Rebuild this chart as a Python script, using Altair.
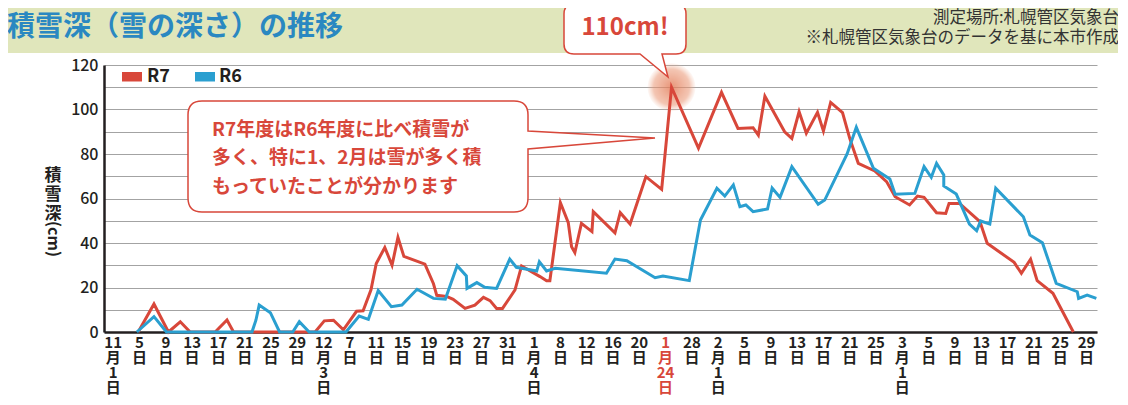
import re
import altair as alt
import pandas as pd

FONT = "Noto Sans CJK JP"
RED = "#d8473a"
BLUE = "#2a9fd0"
INK = "#231f20"
GREEN = "#e0e6bb"
TITLE_BLUE = "#2a88c1"

# x = days after 1 November, y = snow depth (cm)
r7_day = [3.8, 6.2, 8.4, 10.2, 11.7, 15.5, 17.3, 18.3, 30.7, 32.1, 33.5, 35.0, 37.0, 38.0,
          39.2, 40.0, 41.3, 42.4, 43.3, 44.2, 47.4, 48.7, 49.2, 50.7, 51.7, 53.5, 55.0, 56.3,
          57.3, 58.3, 59.2, 61.1, 62.1, 64.9, 65.9, 66.4, 68.0, 69.2, 69.7, 70.2, 71.2, 72.8,
          73.0, 76.3, 77.1, 78.6, 81.0, 83.4, 84.9, 89.0, 92.5, 95.0, 97.3, 98.1, 99.1, 102.1,
          103.2, 104.3, 105.4, 107.1, 108.0, 109.1, 110.9, 112.0, 113.3, 115.8, 117.6, 118.9,
          121.1, 122.3, 123.3, 125.2, 126.6, 127.1, 128.7, 131.8, 132.9, 137.0, 138.1, 139.5,
          140.5, 142.9, 146.0]
r7_cm = [0, 12.6, 0, 4.6, 0, 0, 5.4, 0, 0, 5, 5.3, 1, 9.3, 9.5,
         19, 30.8, 38, 30, 42.5, 34, 30.5, 21.7, 16.5, 16, 14.7, 10.6, 12.1, 15.6,
         14.1, 10.6, 10.6, 18.9, 29.7, 24.9, 23, 23, 58.1, 49.1, 38.3, 35.7, 48.8, 45.1,
         54.1, 44.6, 53.6, 48.5, 69.8, 64.1, 110, 82.6, 107.7, 91.5, 91.8, 88.5, 106, 90,
         87, 99, 89.3, 98.7, 90.3, 103.2, 98.6, 87, 75.8, 72.4, 67.6, 60.8,
         57.1, 61.1, 60.5, 53.6, 53.3, 57.8, 57.8, 49.6, 39.9, 31.3, 26.4, 32.7,
         23.1, 17.4, 0]

r6_day = [3.6, 6.2, 8.1, 21.1, 21.7, 22.2, 23.9, 25.3, 27.3, 28.3, 29.8, 35.4, 37.4, 38.8,
          40.3, 42.3, 43.9, 46.2, 48.7, 50.5, 52.3, 53.7, 53.8, 55.3, 56.5, 58.3, 60.3, 61.3,
          64.4, 64.8, 65.9, 67.2, 75.0, 76.3, 78.1, 82.4, 83.6, 87.6, 89.3, 91.8, 93.0, 94.3,
          95.3, 96.2, 97.3, 99.5, 100.2, 101.4, 103.2, 107.2, 108.2, 111.6, 113.0, 115.6,
          118.1, 118.9, 121.9, 123.3, 124.4, 125.2, 126.3, 126.3, 128.2, 130.2, 131.3, 131.9,
          133.3, 134.2, 138.4, 139.4, 141.3, 143.4, 146.6, 146.8, 148.1, 149.5]
r6_cm = [0, 6.9, 0, 0, 5.3, 12.1, 8.7, 0, 0, 4.6, 0, 0, 7.2, 5.7,
         18.6, 11.4, 12.1, 19.2, 15.1, 14.7, 29.8, 25.2, 19.6, 22.2, 20.1, 19.6, 32.8, 29.1,
         27.4, 31.6, 27.4, 28.6, 26.4, 32.8, 32.0, 24.4, 25.2, 23.1, 50.3, 64.6, 61.1, 66.1,
         56.3, 57.1, 54.1, 55.3, 64.7, 60.5, 74.3, 57.4, 59.3, 80, 92, 73.6,
         68.8, 61.9, 62.3, 74.3, 69.5, 75.8, 70.6, 65.6, 62, 48.5, 45.5, 49.9,
         48.5, 64.6, 51.8, 43.6, 40.1, 21.9, 18.1, 15.1, 16.6, 15.1]

tick_day = [0, 4, 8, 12, 16, 20, 24, 28, 32, 36, 40, 44, 48, 52, 56, 60, 64, 68, 72,
            76, 80, 84, 88, 92, 96, 100, 104, 108, 112, 116, 120, 124, 128, 132, 136,
            140, 144, 148]
tick_label = ["11月1日", "5日", "9日", "13日", "17日", "21日", "25日", "29日", "12月3日",
              "7日", "11日", "15日", "19日", "23日", "27日", "31日", "1月4日", "8日", "12日",
              "16日", "20日", "1月24日", "28日", "2月1日", "5日", "9日", "13日", "17日", "21日",
              "25日", "3月1日", "5日", "9日", "13日", "17日", "21日", "25日", "29日"]
highlight_label = "1月24日"
series_names = ["R7", "R6"]

title_text = "積雪深（雪の深さ）の推移"
source_lines = ["測定場所:札幌管区気象台", "※札幌管区気象台のデータを基に本市作成"]
note_text = "R7年度はR6年度に比べ積雪が\n多く、特に1、2月は雪が多く積\nもっていたことが分かります"
peak_text = "110cm!"
y_title_kanji = "積\n雪\n深"
y_title_unit = "(cm)"


def vertical(s):
    return "\n".join(re.findall(r"\d+|\D", s))


r7 = pd.DataFrame({"day": r7_day, "cm": r7_cm, "i": range(len(r7_day))})
r6 = pd.DataFrame({"day": r6_day, "cm": r6_cm, "i": range(len(r6_day))})
peak = r7.loc[[r7["cm"].idxmax()]]
ticks = pd.DataFrame({
    "day": tick_day,
    "label": [vertical(s) for s in tick_label],
    "hl": [s == highlight_label for s in tick_label],
})
one = pd.DataFrame({"k": [0]})

xs = alt.Scale(domain=[-1.4, 149.6], nice=False, zero=False)
ys = alt.Scale(domain=[0, 120], nice=False, zero=True)
X = alt.X("day:Q", scale=xs,
          axis=alt.Axis(labels=False, ticks=False, grid=False, title=None,
                        domainColor=INK, domainWidth=2.5))
Y = alt.Y("cm:Q", scale=ys,
          axis=alt.Axis(values=list(range(0, 121, 10)),
                        labelExpr="datum.value % 20 === 0 ? datum.label : ''",
                        ticks=False, grid=True, gridColor="#a3a3a3", gridWidth=1.2,
                        domainColor=INK, domainWidth=2.5, labelFont=FONT,
                        labelFontSize=16, labelFontWeight=500, labelColor=INK,
                        labelPadding=6, title=None))

header = alt.Chart(one).mark_rect(color=GREEN).encode(
    x=alt.value(-96), x2=alt.value(1020), y=alt.value(-57), y2=alt.value(-12))
title = alt.Chart(one).mark_text(
    text=title_text, align="left", baseline="middle", font=FONT, fontSize=28,
    fontWeight="bold", color=TITLE_BLUE).encode(x=alt.value(-97), y=alt.value(-37))
src1 = alt.Chart(one).mark_text(
    text=source_lines[0], align="right", baseline="middle", font=FONT, fontSize=16.5,
    color="#333333").encode(x=alt.value(1015), y=alt.value(-47))
src2 = alt.Chart(one).mark_text(
    text=source_lines[1], align="right", baseline="middle", font=FONT, fontSize=16.5,
    color="#333333").encode(x=alt.value(1015), y=alt.value(-27))

glow = alt.Chart(peak).mark_circle(
    size=2300, opacity=1,
    fill=alt.RadialGradient(gradient="radial", stops=[
        alt.GradientStop(offset=0, color="rgba(226,122,86,0.8)"),
        alt.GradientStop(offset=0.75, color="rgba(234,150,116,0.55)"),
        alt.GradientStop(offset=1, color="rgba(240,178,150,0.08)"),
    ])).encode(x=X, y=Y)

line_r7 = alt.Chart(r7).mark_line(color=RED, strokeWidth=3).encode(x=X, y=Y, order="i:Q")
line_r6 = alt.Chart(r6).mark_line(color=BLUE, strokeWidth=3).encode(x=X, y=Y, order="i:Q")

box_path = ("M14,0 H326 Q340,0 340,14 V30 L467,37 L340,48 V97 Q340,111 326,111 "
            "H14 Q0,111 0,97 V14 Q0,0 14,0 Z")
box = alt.Chart(one).mark_point(
    shape=box_path, size=4, filled=True, fill="white", stroke=RED, strokeWidth=1.5,
    opacity=1).encode(x=alt.value(84), y=alt.value(36))
box_text = alt.Chart(one).mark_text(
    text=note_text, lineBreak="\n", lineHeight=28.4, align="left", baseline="middle",
    font=FONT, fontSize=19, fontWeight="bold", color=RED).encode(
    x=alt.value(108), y=alt.value(65))

bubble_path = ("M10,0 H112 Q122,0 122,10 V40 Q122,50 112,50 H98 L104,73 L76,50 "
               "H10 Q0,50 0,40 V10 Q0,0 10,0 Z")
bubble = alt.Chart(one).mark_point(
    shape=bubble_path, size=4, filled=True, fill="white", stroke=RED, strokeWidth=1.5,
    opacity=1).encode(x=alt.value(460), y=alt.value(-61))
bubble_text = alt.Chart(one).mark_text(
    text=peak_text, align="center", baseline="middle", font=FONT, fontSize=24,
    fontWeight="bold", color=RED).encode(x=alt.value(521), y=alt.value(-37))

leg = []
leg_x = [(18, 38, 43), (91, 111, 115)]
for name, col, (a, b, t) in zip(series_names, [RED, BLUE], leg_x):
    d = pd.DataFrame({"series": [name]})
    leg.append(alt.Chart(d).mark_rect(color=col).encode(
        x=alt.value(a), x2=alt.value(b), y=alt.value(7), y2=alt.value(16.5)))
    leg.append(alt.Chart(d).mark_text(
        align="left", baseline="middle", font=FONT, fontSize=18, fontWeight="bold",
        color=INK).encode(text="series:N", x=alt.value(t), y=alt.value(11.5)))

xlabels = alt.Chart(ticks).mark_text(
    lineBreak="\n", lineHeight=15.1, align="center", baseline="top", font=FONT,
    fontSize=15, fontWeight="bold").encode(
    x=X, y=alt.value(271), text="label:N",
    color=alt.condition("datum.hl", alt.value(RED), alt.value(INK)))

ytitle1 = alt.Chart(one).mark_text(
    text=y_title_kanji, lineBreak="\n", lineHeight=19, align="center", baseline="middle",
    font=FONT, fontSize=17, fontWeight="bold", color=INK).encode(
    x=alt.value(-51), y=alt.value(111))
ytitle2 = alt.Chart(one).mark_text(
    text=y_title_unit, angle=90, align="center", baseline="middle",
    font=FONT, fontSize=16, fontWeight="bold", color=INK).encode(
    x=alt.value(-51), y=alt.value(174))

chart = alt.layer(
    header, title, src1, src2, glow, line_r7, line_r6, box, box_text, bubble,
    bubble_text, *leg, xlabels, ytitle1, ytitle2
).properties(
    width=993, height=267,
    padding={"left": 96, "top": 57, "right": 21, "bottom": 65},
    autosize=alt.AutoSizeParams(type="none"),
).configure(background="white").configure_view(strokeWidth=0, fill="white")

chart.save("out.html", embed_options={"renderer": "svg", "actions": False})
